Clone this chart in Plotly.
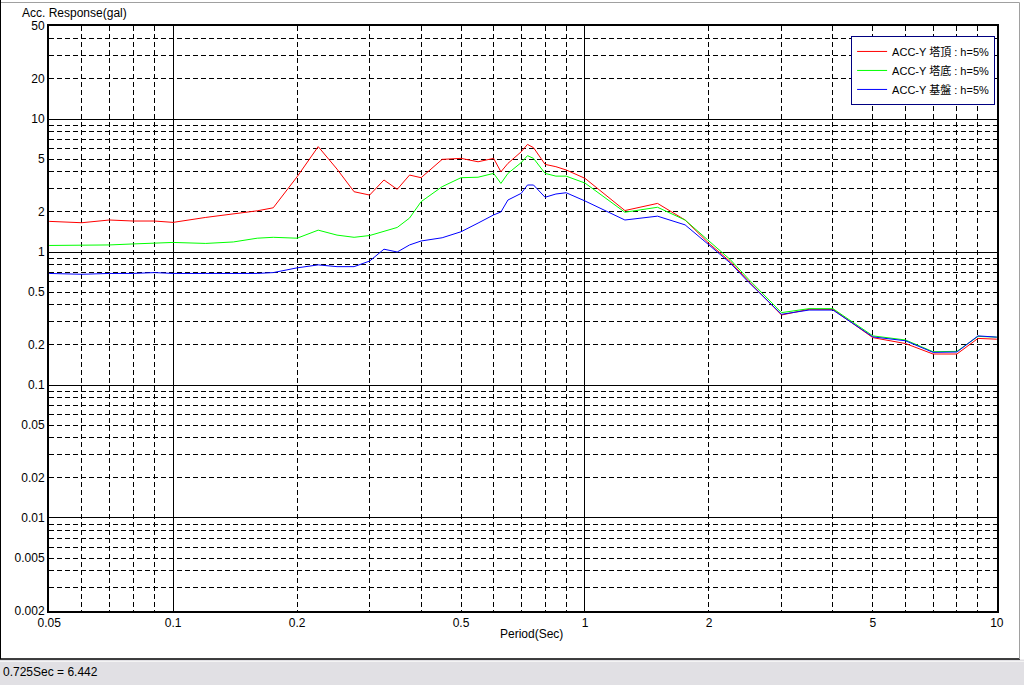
import math
import plotly.graph_objects as go

# ---- data ----
periods = [0.05, 0.06, 0.07, 0.08, 0.09, 0.10, 0.12, 0.14, 0.16, 0.175,
           0.2, 0.225, 0.25, 0.275, 0.3, 0.325, 0.35, 0.375, 0.4, 0.45,
           0.5, 0.55, 0.6, 0.625, 0.65, 0.7, 0.725, 0.75, 0.8, 0.85,
           0.9, 1.0, 1.25, 1.5, 1.75, 2.0, 2.25, 2.5, 3.0, 3.5,
           4.0, 5.0, 6.0, 7.0, 8.0, 9.0, 10.0]

acc_top = [1.70, 1.66, 1.74, 1.71, 1.71, 1.67, 1.82, 1.93, 2.04, 2.15,
           3.68, 6.20, 4.20, 2.84, 2.68, 3.48, 2.96, 3.79, 3.62, 4.97,
           5.06, 4.77, 5.06, 4.01, 4.64, 5.67, 6.442, 6.09, 4.56, 4.38,
           4.14, 3.58, 2.05, 2.32, 1.74, 1.16, 0.85, 0.60, 0.336, 0.371,
           0.370, 0.227, 0.205, 0.171, 0.171, 0.224, 0.221]

acc_base = [1.12, 1.12, 1.13, 1.15, 1.17, 1.18, 1.16, 1.19, 1.27, 1.29,
            1.27, 1.46, 1.34, 1.29, 1.33, 1.44, 1.53, 1.80, 2.39, 3.10,
            3.62, 3.65, 3.90, 3.28, 3.90, 4.70, 5.30, 5.06, 3.90, 3.72,
            3.72, 3.30, 1.99, 2.17, 1.74, 1.21, 0.88, 0.62, 0.350, 0.375,
            0.375, 0.234, 0.218, 0.178, 0.179, 0.232, 0.229]

acc_ground = [0.69, 0.68, 0.69, 0.69, 0.70, 0.69, 0.69, 0.69, 0.69, 0.70,
              0.76, 0.80, 0.776, 0.776, 0.855, 1.05, 1.00, 1.13, 1.21, 1.28,
              1.42, 1.65, 1.90, 2.00, 2.46, 2.76, 3.19, 3.19, 2.58, 2.73,
              2.79, 2.42, 1.74, 1.86, 1.60, 1.13, 0.83, 0.59, 0.340, 0.366,
              0.366, 0.230, 0.215, 0.176, 0.177, 0.234, 0.229]

series_names = ["ACC-Y 塔頂 : h=5%", "ACC-Y 塔底 : h=5%", "ACC-Y 基盤 : h=5%"]
series_colors = ["#ff0000", "#00ff00", "#0000ff"]

x_major_labels = [0.05, 0.1, 0.2, 0.5, 1, 2, 5, 10]
y_major_labels = [0.002, 0.005, 0.01, 0.02, 0.05, 0.1, 0.2, 0.5, 1, 2, 5, 10, 20, 50]
x_decades = [0.1, 1]
y_decades = [0.01, 0.1, 1, 10]

status_text = "0.725Sec = 6.442"

# ---- helpers ----
def grid_vals(lo, hi):
    vals = []
    e = math.floor(math.log10(lo)) - 1
    while 10 ** e <= hi * 10:
        for m in range(1, 10):
            v = round(m * 10 ** e, 10)
            if lo * 0.999 <= v <= hi * 1.001:
                vals.append(v)
        e += 1
    return vals

def labels(vals, shown):
    shown_r = [round(s, 10) for s in shown]
    return [("%g" % v) if round(v, 10) in shown_r else "" for v in vals]

x_vals = grid_vals(0.05, 10)
y_vals = grid_vals(0.002, 50)

FONT = "Liberation Sans, Arial, Noto Sans CJK JP, sans-serif"
xr = [math.log10(0.05) - 0.0004, math.log10(10) + 0.0004]
yr = [math.log10(0.002) - 0.0004, math.log10(50) + 0.0004]

fig = go.Figure()
for vals, name, col in zip([acc_top, acc_base, acc_ground], series_names, series_colors):
    fig.add_trace(go.Scatter(x=periods, y=vals, mode="lines", name=name,
                             line=dict(color=col, width=1)))
# empty trace to create the overlay axes that carry the solid decade gridlines
fig.add_trace(go.Scatter(x=[], y=[], xaxis="x2", yaxis="y2", showlegend=False,
                         hoverinfo="skip"))

dash = "5px,3px"
fig.update_layout(
    width=1024, height=685,
    margin=dict(l=49, r=27, t=26, b=74),
    paper_bgcolor="white", plot_bgcolor="white",
    font=dict(family=FONT, size=12, color="black"),
    xaxis=dict(type="log", range=xr, tickmode="array", tickvals=x_vals,
               ticktext=labels(x_vals, x_major_labels),
               showgrid=True, gridcolor="black", gridwidth=1, griddash=dash,
               showline=True, linecolor="black", linewidth=2, mirror=True,
               ticks="", zeroline=False, tickfont=dict(size=12)),
    yaxis=dict(type="log", range=yr, tickmode="array", tickvals=y_vals,
               ticktext=labels(y_vals, y_major_labels),
               showgrid=True, gridcolor="black", gridwidth=1, griddash=dash,
               showline=True, linecolor="black", linewidth=2, mirror=True,
               ticks="", zeroline=False, tickfont=dict(size=12)),
    xaxis2=dict(type="log", range=xr, overlaying="x", anchor="y2",
                tickmode="array", tickvals=x_decades, showticklabels=False,
                showgrid=True, gridcolor="black", gridwidth=1, ticks="",
                showline=False, zeroline=False),
    yaxis2=dict(type="log", range=yr, overlaying="y", anchor="x2",
                tickmode="array", tickvals=y_decades, showticklabels=False,
                showgrid=True, gridcolor="black", gridwidth=1, ticks="",
                showline=False, zeroline=False),
    legend=dict(x=0.998, y=0.983, xanchor="right", yanchor="top",
                bgcolor="white", bordercolor="#000080", borderwidth=1,
                font=dict(size=11, family=FONT), itemwidth=30,
                tracegroupgap=0),
    showlegend=True,
)

W = 948.0
H = 585.0
def px(x):
    return (x - 49) / W
def py(y):
    return 1 - (y - 26) / H

# window frame and status bar
fig.add_shape(type="rect", xref="paper", yref="paper", x0=px(0), x1=px(1024),
              y0=py(685), y1=py(659.5), fillcolor="#e1e0e4", line_width=0, layer="below")
fig.add_shape(type="line", xref="paper", yref="paper", x0=px(0), x1=px(1024),
              y0=py(661.5), y1=py(661.5), line=dict(color="#f4f4f4", width=1))
fig.add_shape(type="line", xref="paper", yref="paper", x0=px(0.5), x1=px(0.5),
              y0=py(0), y1=py(659), line=dict(color="black", width=1))
fig.add_shape(type="line", xref="paper", yref="paper", x0=px(0), x1=px(1020),
              y0=py(659), y1=py(659), line=dict(color="black", width=1.5))
fig.add_shape(type="line", xref="paper", yref="paper", x0=px(1019.5), x1=px(1019.5),
              y0=py(2.5), y1=py(659), line=dict(color="#a0a0a0", width=1))
fig.add_shape(type="line", xref="paper", yref="paper", x0=px(1), x1=px(1019.5),
              y0=py(2.5), y1=py(2.5), line=dict(color="#a0a0a0", width=1))

fig.add_annotation(text="Acc. Response(gal)", xref="paper", yref="paper",
                   x=px(20), y=py(13), xanchor="left", yanchor="middle",
                   showarrow=False, font=dict(size=12, family=FONT))
fig.add_annotation(text="Period(Sec)", xref="paper", yref="paper",
                   x=px(531), y=py(634), xanchor="center", yanchor="middle",
                   showarrow=False, font=dict(size=12, family=FONT))
fig.add_annotation(text=status_text, xref="paper", yref="paper",
                   x=px(1), y=py(672), xanchor="left", yanchor="middle",
                   showarrow=False, font=dict(size=12, family=FONT))

fig.write_html("out.html",
               config={"displayModeBar": False},
               post_script="document.body.style.margin='0px';document.body.style.overflow='hidden';")
